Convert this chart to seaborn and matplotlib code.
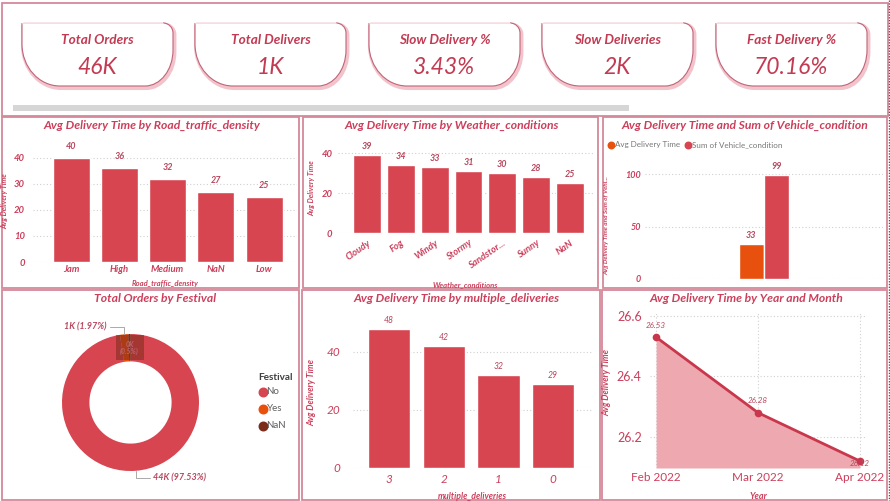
import matplotlib
matplotlib.use('Agg')
import matplotlib.pyplot as plt
from matplotlib.path import Path
from matplotlib.patches import PathPatch, Rectangle
import numpy as np
import pandas as pd
import seaborn as sns

# data
kpi_titles = ['Total Orders', 'Total Delivers', 'Slow Delivery %', 'Slow Deliveries', 'Fast Delivery %']
kpi_values = ['46K', '1K', '3.43%', '2K', '70.16%']

traffic_cats = ['Jam', 'High', 'Medium', 'NaN', 'Low']
traffic_vals = [40, 36, 32, 27, 25]

weather_cats = ['Cloudy', 'Fog', 'Windy', 'Stormy', 'Sandstor...', 'Sunny', 'NaN']
weather_vals = [39, 34, 33, 31, 30, 28, 25]

vehicle_measures = ['Avg Delivery Time', 'Sum of Vehicle_condition']
vehicle_vals = [33, 99]

festival_cats = ['No', 'Yes', 'NaN']
festival_pct = [97.53, 1.97, 0.50]
festival_counts = ['44K', '1K', '0K']

multi_cats = ['3', '2', '1', '0']
multi_vals = [48, 42, 32, 29]

months = ['Feb 2022', 'Mar 2022', 'Apr 2022']
month_vals = [26.53, 26.28, 26.12]

W, H = 890, 501
RED = '#D64550'
ORANGE = '#E8500E'
BROWN = '#7B2D1A'
TXT = '#CC3F5B'
LBL = '#B8475E'
BORDER = '#D4899A'

sns.set_theme(style='white')
plt.rcParams['font.family'] = ['Lato', 'DejaVu Sans']

fig = plt.figure(figsize=(W / 100, H / 100), dpi=100)
fig.patch.set_facecolor('white')

bg = fig.add_axes([0, 0, 1, 1], zorder=0)
bg.set_xlim(0, W)
bg.set_ylim(H, 0)
bg.axis('off')


def px_axes(x0, y0, x1, y1):
    ax = fig.add_axes([x0 / W, 1 - y1 / H, (x1 - x0) / W, (y1 - y0) / H], zorder=2)
    ax.set_facecolor('none')
    return ax


def box(x0, y0, x1, y1, lw=1.3):
    bg.add_patch(Rectangle((x0, y0), x1 - x0, y1 - y0, fill=False, ec=BORDER, lw=lw))


def card(x0, y0, x1, y1, tr=(10, 10), br=(28, 36), bl=(38, 42)):
    k = 0.5523
    C = Path.CURVE4
    v = [(x0, y0), (x1 - tr[0], y0),
         (x1 - tr[0] + k * tr[0], y0), (x1, y0 + tr[1] - k * tr[1]), (x1, y0 + tr[1]),
         (x1, y1 - br[1]),
         (x1, y1 - br[1] + k * br[1]), (x1 - br[0] + k * br[0], y1), (x1 - br[0], y1),
         (x0 + bl[0], y1),
         (x0 + bl[0] - k * bl[0], y1), (x0, y1 - bl[1] + k * bl[1]), (x0, y1 - bl[1]),
         (x0, y0)]
    c = [Path.MOVETO, Path.LINETO, C, C, C, Path.LINETO, C, C, C, Path.LINETO, C, C, C, Path.LINETO]
    shadow = [(vx + 1.2, vy + 1.8) for vx, vy in v]
    bg.add_patch(PathPatch(Path(shadow, c), fc='none', ec='#F3C3CC', lw=3.2))
    bg.add_patch(PathPatch(Path(v, c), fc='white', ec='none'))
    # outline without the top edge
    bg.add_patch(PathPatch(Path(v[1:], [Path.MOVETO] + c[2:]), fc='none', ec='#BF6478', lw=0.8))
    bg.plot([x0, x1 - tr[0]], [y0, y0], color='#F4D8DE', lw=0.6)


def style_axes(ax, size=6.5):
    sns.despine(ax=ax, left=True, bottom=True)
    ax.grid(axis='y', ls=(0, (1, 2)), color='#d0d0d0', lw=0.8)
    ax.set_axisbelow(True)
    ax.tick_params(length=0, labelsize=size, labelcolor=TXT)
    for t in ax.get_xticklabels() + ax.get_yticklabels():
        t.set_fontweight('bold')
        t.set_fontstyle('italic')


title_kw = dict(fontsize=8.7, fontweight='bold', fontstyle='italic', color=TXT, ha='center', va='center')
axlab_kw = dict(fontweight='bold', fontstyle='italic', color=TXT)

# ---- KPI strip
box(2, 3, 888, 116)
card_x = [(22, 173), (195, 346), (369, 520), (542, 693), (716, 867)]
for (cx0, cx1), t, v in zip(card_x, kpi_titles, kpi_values):
    card(cx0, 23, cx1, 86)
    cx = (cx0 + cx1) / 2
    bg.text(cx, 39.5, t, fontsize=9.8, fontweight='bold', fontstyle='italic', color='#C23B52', ha='center', va='center')
    bg.text(cx, 67, v, fontsize=16.5, fontstyle='italic', color='#C23B52', ha='center', va='center')
bg.add_patch(Rectangle((13, 105), 616, 6, color='#D6D6D6', lw=0))

# panel borders
for p in [(2, 117, 299, 288), (303, 117, 598, 288), (603, 117, 887, 288),
          (2, 290, 299, 500), (302, 290, 600, 500), (602, 290, 887, 500)]:
    box(*p)
bg.plot([889, 889], [0, H], ls=(0, (1, 1)), color='#555555', lw=1)

# ---- Road traffic density
ax1 = px_axes(33, 140, 297, 262)
df1 = pd.DataFrame({'Road_traffic_density': traffic_cats, 'Avg Delivery Time': traffic_vals})
sns.barplot(data=df1, x='Road_traffic_density', y='Avg Delivery Time', order=traffic_cats,
            color=RED, saturation=1, width=0.77, ax=ax1)
ax1.bar_label(ax1.containers[0], fmt='{:.0f}', padding=5, fontsize=6.5, color=LBL,
              fontweight='bold', fontstyle='italic')
ax1.set_xlim(-0.79, 4.68)
ax1.set_ylim(0, 46.9)
ax1.set_yticks([0, 10, 20, 30, 40])
style_axes(ax1, 6.8)
ax1.tick_params(axis='y', pad=6)
ax1.tick_params(axis='x', pad=2)
ax1.set_xlabel('Road_traffic_density', fontsize=5.5, **axlab_kw)
ax1.set_ylabel('Avg Delivery Time', fontsize=5.2, **axlab_kw)
ax1.xaxis.set_label_coords(0.5, -0.15)
ax1.yaxis.set_label_coords(-0.095, 0.5)
bg.text(152, 125.5, 'Avg Delivery Time by Road_traffic_density', **title_kw)

# ---- Weather conditions
ax2 = px_axes(338, 143, 593, 233)
df2 = pd.DataFrame({'Weather_conditions': weather_cats, 'Avg Delivery Time': weather_vals})
sns.barplot(data=df2, x='Weather_conditions', y='Avg Delivery Time', order=weather_cats,
            color=RED, saturation=1, width=0.82, ax=ax2)
ax2.bar_label(ax2.containers[0], fmt='{:.0f}', padding=3, fontsize=6.5, color=LBL,
              fontweight='bold', fontstyle='italic')
ax2.set_xlim(-0.86, 6.68)
ax2.set_ylim(0, 45)
ax2.set_yticks([0, 20, 40])
style_axes(ax2, 6.8)
ax2.tick_params(axis='y', pad=4)
ax2.tick_params(axis='x', pad=4)
plt.setp(ax2.get_xticklabels(), rotation=35, ha='right', rotation_mode='anchor')
ax2.set_xlabel('Weather_conditions', fontsize=5.5, **axlab_kw)
ax2.set_ylabel('Avg Delivery Time', fontsize=5.2, **axlab_kw)
ax2.xaxis.set_label_coords(0.5, -0.53)
ax2.yaxis.set_label_coords(-0.09, 0.5)
bg.text(452, 125.5, 'Avg Delivery Time by Weather_conditions', **title_kw)

# ---- Vehicle condition
ax3 = px_axes(645, 165, 883, 279)
df3 = pd.DataFrame({'grp': [''] * len(vehicle_measures), 'measure': vehicle_measures, 'value': vehicle_vals})
sns.barplot(data=df3, x='grp', y='value', hue='measure', hue_order=vehicle_measures,
            palette=[ORANGE, RED], saturation=1, width=0.214, legend=False, ax=ax3)
for c in ax3.containers:
    ax3.bar_label(c, fmt='{:.0f}', padding=3.5, fontsize=6.5, color=LBL,
                  fontweight='bold', fontstyle='italic')
ax3.set_xlim(-0.5, 0.5)
ax3.set_ylim(0, 109)
ax3.set_yticks([0, 50, 100])
ax3.set_xticks([])
style_axes(ax3, 6.5)
ax3.tick_params(axis='y', pad=3)
ax3.set_xlabel('')
ax3.set_ylabel('Avg Delivery Time and Sum of Vehi...', fontsize=4.6, **axlab_kw)
ax3.yaxis.set_label_coords(-0.15, 0.47)
bg.text(745, 125.5, 'Avg Delivery Time and Sum of Vehicle_condition', **title_kw)
for lx, col, name in [(611, ORANGE, vehicle_measures[0]), (688, RED, vehicle_measures[1])]:
    bg.scatter([lx], [145], s=22, color=col, zorder=3)
    bg.text(lx + 4, 145, name, fontsize=5.8, color='#777777', ha='left', va='center')

# ---- Festival donut
ax4 = px_axes(62, 334, 199, 471)
wedges, _ = ax4.pie(festival_pct, colors=[RED, ORANGE, BROWN], startangle=90, counterclock=False,
                    radius=1, wedgeprops=dict(width=0.4, edgecolor='none'))
ax4.set_xlim(-1, 1)
ax4.set_ylim(-1, 1)
ax4.set_aspect('equal')
ax4.axis('off')
# labels for No and Yes, placed from the wedge angles
for i, (dx, ha) in zip([0, 1], [(0.25, 'left'), (-0.25, 'right')]):
    w = wedges[i]
    ang = np.deg2rad((w.theta1 + w.theta2) / 2)
    x0, y0 = np.cos(ang), np.sin(ang)
    ly = y0 + (0.1 if y0 > 0 else -0.1)
    lx = x0 + dx
    ax4.plot([x0, x0, lx - (0.05 if dx > 0 else -0.05)], [y0, ly, ly], color='#AAAAAA', lw=0.7, clip_on=False)
    ax4.text(lx, ly, f'{festival_counts[i]} ({festival_pct[i]:.2f}%)', fontsize=6.5, color=LBL,
             fontweight='bold', fontstyle='italic', ha=ha, va='center', clip_on=False)
# hover highlight of NaN slice
w = wedges[2]
ang = np.deg2rad((w.theta1 + w.theta2) / 2)
ax4.add_patch(Rectangle((np.cos(ang) * 0.8 - 0.2, 0.62), 0.41, 0.37, color=BROWN, alpha=0.55, lw=0))
ax4.text(np.cos(ang) * 0.8, 0.8, f'{festival_counts[2]}\n({festival_pct[2]:.1f}%)', fontsize=5,
         color='#C06070', ha='center', va='center', fontweight='bold', fontstyle='italic', linespacing=0.9)
bg.text(155, 298, 'Total Orders by Festival', **title_kw)
bg.text(258, 377, 'Festival', fontsize=7.2, fontweight='bold', color='#404040', ha='left', va='center')
for yy, col, name in zip([392, 408.7, 425.7], [RED, ORANGE, BROWN], festival_cats):
    bg.scatter([262.5], [yy], s=38, color=col, zorder=3)
    bg.text(266.5, yy, name, fontsize=7, color='#606060', ha='left', va='center')

# ---- Multiple deliveries
ax5 = px_axes(353, 318, 592, 468)
df5 = pd.DataFrame({'multiple_deliveries': multi_cats, 'Avg Delivery Time': multi_vals})
sns.barplot(data=df5, x='multiple_deliveries', y='Avg Delivery Time', order=multi_cats,
            color=RED, saturation=1, width=0.77, ax=ax5)
ax5.bar_label(ax5.containers[0], fmt='{:.0f}', padding=3, fontsize=6.2, color=LBL, fontstyle='italic')
ax5.set_xlim(-0.66, 3.71)
ax5.set_ylim(0, 51.7)
ax5.set_yticks([0, 20, 40])
style_axes(ax5, 8.5)
ax5.tick_params(axis='y', pad=9)
ax5.tick_params(axis='x', pad=4)
for t in ax5.get_xticklabels() + ax5.get_yticklabels():
    t.set_fontweight('normal')
ax5.set_xlabel('multiple_deliveries', fontsize=6.3, **axlab_kw)
ax5.set_ylabel('Avg Delivery Time', fontsize=6.3, **axlab_kw)
ax5.xaxis.set_label_coords(0.5, -0.16)
ax5.yaxis.set_label_coords(-0.152, 0.5)
bg.text(456, 298, 'Avg Delivery Time by multiple_deliveries', **title_kw)

# ---- Year and month line
ax6 = px_axes(650, 313, 866, 468)
df6 = pd.DataFrame({'idx': np.arange(len(months)), 'Year': months, 'Avg Delivery Time': month_vals})
ylo = 26.097
ax6.fill_between(df6['idx'], df6['Avg Delivery Time'], ylo, color='#EDA8B0', lw=0, zorder=1)
sns.lineplot(data=df6, x='idx', y='Avg Delivery Time', color='#C9374C', lw=2, marker='o',
             markersize=5.5, markeredgewidth=0, ax=ax6, zorder=3)
for xi, v in zip(df6['idx'], month_vals):
    ax6.annotate(f'{v:.2f}', (xi, v), xytext=(0, 6 if xi < 2 else -2), textcoords='offset points',
                 fontsize=5.8, color=LBL, fontstyle='italic', ha='center', va='bottom' if xi < 2 else 'center')
ax6.set_xlim(-0.06, 2.06)
ax6.set_ylim(ylo, 26.61)
ax6.set_yticks([26.2, 26.4, 26.6])
ax6.set_xticks(df6['idx'])
ax6.set_xticklabels(months)
style_axes(ax6, 8.5)
ax6.grid(axis='x', ls=(0, (1, 2)), color='#d0d0d0', lw=0.8)
ax6.tick_params(axis='y', pad=6, labelsize=9)
ax6.tick_params(axis='x', pad=3)
for t in ax6.get_xticklabels() + ax6.get_yticklabels():
    t.set_fontweight('normal')
    t.set_fontstyle('normal')
ax6.set_xlabel('Year', fontsize=6.5, **axlab_kw)
ax6.set_ylabel('Avg Delivery Time', fontsize=6.3, **axlab_kw)
ax6.xaxis.set_label_coords(0.5, -0.155)
ax6.yaxis.set_label_coords(-0.177, 0.55)
bg.text(746, 298, 'Avg Delivery Time by Year and Month', **title_kw)

fig.savefig('out.png', dpi=100)
